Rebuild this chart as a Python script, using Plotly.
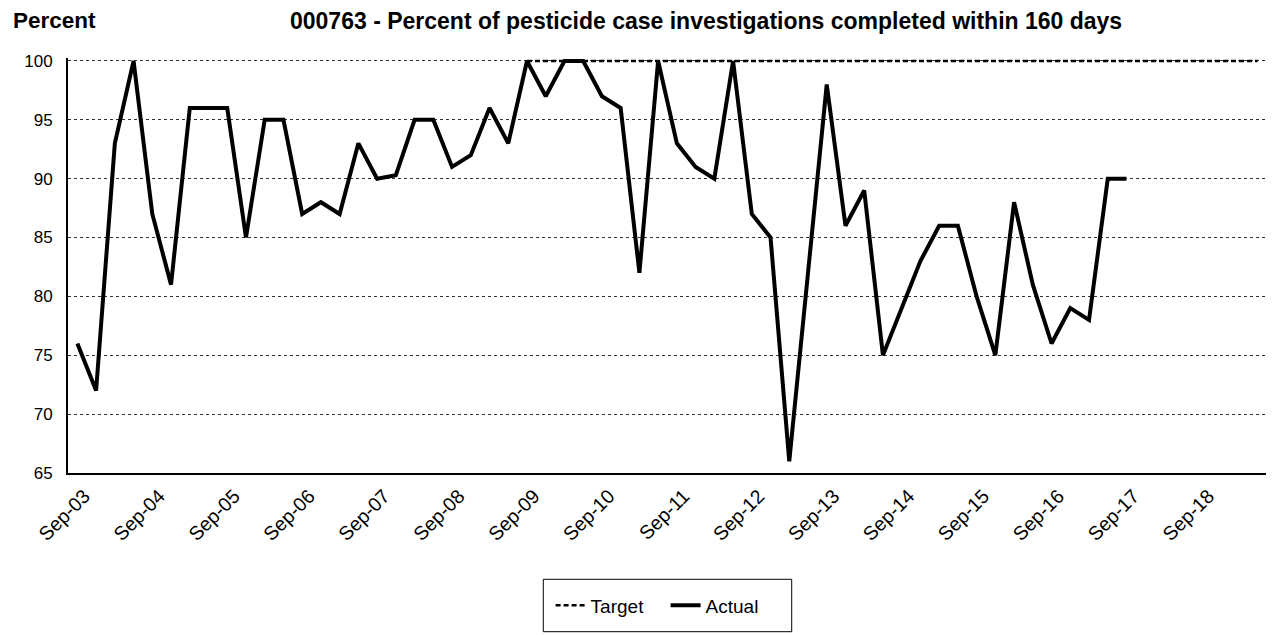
import plotly.graph_objects as go

# Quarterly categories (x axis)
categories = [
    "Sep-03", "Dec-03", "Mar-04", "Jun-04", "Sep-04", "Dec-04", "Mar-05", "Jun-05",
    "Sep-05", "Dec-05", "Mar-06", "Jun-06", "Sep-06", "Dec-06", "Mar-07", "Jun-07",
    "Sep-07", "Dec-07", "Mar-08", "Jun-08", "Sep-08", "Dec-08", "Mar-09", "Jun-09",
    "Sep-09", "Dec-09", "Mar-10", "Jun-10", "Sep-10", "Dec-10", "Mar-11", "Jun-11",
    "Sep-11", "Dec-11", "Mar-12", "Jun-12", "Sep-12", "Dec-12", "Mar-13", "Jun-13",
    "Sep-13", "Dec-13", "Mar-14", "Jun-14", "Sep-14", "Dec-14", "Mar-15", "Jun-15",
    "Sep-15", "Dec-15", "Mar-16", "Jun-16", "Sep-16", "Dec-16", "Mar-17", "Jun-17",
    "Sep-17", "Dec-17", "Mar-18", "Jun-18", "Sep-18", "Dec-18", "Mar-19", "Jun-19",
]

# Shown tick labels (every fourth quarter)
tick_labels = [
    "Sep-03", "Sep-04", "Sep-05", "Sep-06", "Sep-07", "Sep-08", "Sep-09", "Sep-10",
    "Sep-11", "Sep-12", "Sep-13", "Sep-14", "Sep-15", "Sep-16", "Sep-17", "Sep-18",
]

# Actual values, Sep-03 .. Sep-17
actual = [
    76, 72, 93, 100, 87, 81, 96, 96,
    96, 85, 95, 95, 87, 88, 87, 93,
    90, 90.3, 95, 95, 91, 92, 96, 93,
    100, 97, 100, 100, 97, 96, 82, 100,
    93, 91, 90, 100, 87, 85, 66, 82,
    98, 86, 89, 75, 79, 83, 86, 86,
    80, 75, 88, 81, 76, 79, 78, 90,
    90,
]

# Target values, Sep-09 .. Jun-19
target_start = "Sep-09"
target = [
    100, 100, 100, 100, 100, 100, 100, 100, 100, 100,
    100, 100, 100, 100, 100, 100, 100, 100, 100, 100,
    100, 100, 100, 100, 100, 100, 100, 100, 100, 100,
    100, 100, 100, 100, 100, 100, 100, 100, 100, 100,
]

y_ticks = [65, 70, 75, 80, 85, 90, 95, 100]

FONT = "Liberation Sans, Arial, sans-serif"

t0 = categories.index(target_start)
target_x = categories[t0:t0 + len(target)]
actual_x = categories[:len(actual)]

fig = go.Figure()
fig.add_trace(go.Scatter(
    x=target_x, y=target, mode="lines", name="Target",
    line=dict(color="black", width=2.5, dash="5px,3px"),
))
fig.add_trace(go.Scatter(
    x=actual_x, y=actual, mode="lines", name="Actual",
    line=dict(color="black", width=4),
))

fig.update_layout(
    width=1266, height=627,
    margin=dict(l=60, r=7, t=50, b=162),
    paper_bgcolor="white", plot_bgcolor="white",
    font=dict(family=FONT, size=17, color="black"),
    showlegend=True,
    legend=dict(
        orientation="h", x=0.4025, xanchor="left", y=-0.3193, yanchor="middle",
        font=dict(size=19), bgcolor="rgba(0,0,0,0)", borderwidth=0,
        entrywidth=70,
    ),
    xaxis=dict(
        type="category", categoryorder="array", categoryarray=categories,
        range=[-0.5, len(categories) - 0.5],
        tickmode="array", tickvals=tick_labels, ticktext=tick_labels,
        tickangle=-45, showgrid=False, ticks="",
        ticklabelshift=7, ticklabelstandoff=2,
        showline=True, linecolor="black", linewidth=2,
        tickfont=dict(size=19.5), zeroline=False,
    ),
    yaxis=dict(
        range=[65, 100.25], tickmode="array", tickvals=y_ticks,
        showgrid=True, gridcolor="#333333", gridwidth=1, griddash="dot",
        showline=True, linecolor="black", linewidth=2,
        ticks="outside", ticklen=10, tickcolor="rgba(0,0,0,0)",
        tickfont=dict(size=17), zeroline=False,
    ),
    annotations=[
        dict(text="<b>Percent</b>", xref="paper", yref="paper",
             x=-0.0472, y=1.09, xanchor="left", yanchor="middle",
             showarrow=False, font=dict(size=22.5)),
        dict(text="<b>000763 - Percent of pesticide case investigations completed within 160 days</b>",
             xref="paper", yref="paper", x=0.5323, y=1.09,
             xanchor="center", yanchor="middle",
             showarrow=False, font=dict(size=23)),
    ],
    shapes=[
        dict(type="line", xref="paper", yref="y", x0=1, x1=1, y0=65, y1=100,
             line=dict(color="#808080", width=2)),
        dict(type="rect", xref="paper", yref="paper",
             x0=0.3964, x1=0.6036, y0=-0.3824, y1=-0.2561,
             line=dict(color="black", width=1), fillcolor="rgba(0,0,0,0)"),
    ],
)

fig.write_html("out.html")
